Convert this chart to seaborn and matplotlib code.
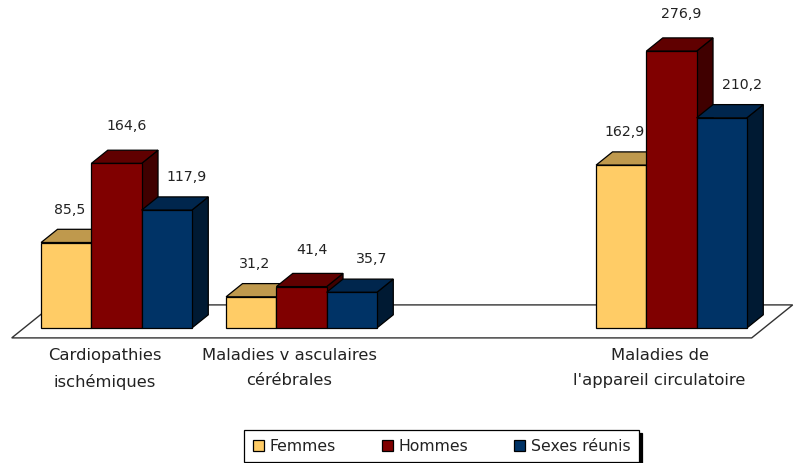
import matplotlib
matplotlib.use("Agg")
import matplotlib.pyplot as plt
import matplotlib.colors as mcolors
from matplotlib.patches import Polygon, Patch
import pandas as pd
import seaborn as sns

# Data
categories = ["Cardiopathies\nischémiques", "Maladies v asculaires\ncérébrales",
              "Maladies de\nl'appareil circulatoire"]
axis_order = [categories[0], categories[1], " ", categories[2]]
series = ["Femmes", "Hommes", "Sexes réunis"]
femmes = [85.5, 31.2, 162.9]
hommes = [164.6, 41.4, 276.9]
sexes = [117.9, 35.7, 210.2]
colors = ["#FFCC66", "#800000", "#003366"]

rows = []
for name, vals in zip(series, [femmes, hommes, sexes]):
    for cat, v in zip(categories, vals):
        rows.append({"cat": cat, "serie": name, "val": v})
df = pd.DataFrame(rows)

sns.set_theme(style="white")
plt.rcParams["font.family"] = ["DejaVu Sans"]

W, H = 794, 463
fig = plt.figure(figsize=(W / 100, H / 100), dpi=100)
ax = fig.add_axes([0, 0, 1, 1])

# 185 px per category, 1 px per unit vertically
xmin = -116.5 / 185
xmax = (W - 116.5) / 185
ymin, ymax = -135, 328
ax.set_xlim(xmin, xmax)
ax.set_ylim(ymin, ymax)

sns.barplot(data=df, x="cat", y="val", hue="serie", order=axis_order,
            hue_order=series, palette=colors, width=0.815, saturation=1,
            edgecolor="black", linewidth=0.9, legend=False, ax=ax)
ax.set_xlim(xmin, xmax)
ax.set_ylim(ymin, ymax)
ax.axis("off")

sx = (xmax - xmin) / W  # data units per pixel, x
sy = (ymax - ymin) / H  # data units per pixel, y

# depth vector of the floor (pixels); bars occupy 0.3..0.7 of it
Dx, Dy = 41, 33
bdx, bdy = 0.4 * Dx * sx, 0.4 * Dy * sy

# floor parallelogram
x0, x1 = -0.5, 3.5
fx, fy = 0.3 * Dx * sx, 0.3 * Dy * sy
bx, by = 0.7 * Dx * sx, 0.7 * Dy * sy
floor = Polygon([(x0 - fx, -fy), (x1 - fx, -fy), (x1 + bx, by), (x0 + bx, by)],
                closed=True, facecolor="white", edgecolor="#333333",
                linewidth=1.0, zorder=0.5)
ax.add_patch(floor)


def shade(c, f):
    r, g, b = mcolors.to_rgb(c)
    return (r * f, g * f, b * f)


bars = sorted([p for p in ax.patches if p is not floor and p.get_height() > 0],
              key=lambda p: p.get_x())
z = 2
for p in bars:
    x, w, h = p.get_x(), p.get_width(), p.get_height()
    fc = p.get_facecolor()
    side = Polygon([(x + w, 0), (x + w + bdx, bdy), (x + w + bdx, h + bdy), (x + w, h)],
                   closed=True, facecolor=shade(fc, 0.5), edgecolor="black",
                   linewidth=0.9, zorder=z)
    top = Polygon([(x, h), (x + w, h), (x + w + bdx, h + bdy), (x + bdx, h + bdy)],
                  closed=True, facecolor=shade(fc, 0.75), edgecolor="black",
                  linewidth=0.9, zorder=z + 1)
    ax.add_patch(side)
    ax.add_patch(top)
    p.set_zorder(z + 2)
    z += 3

# value labels
offsets = {"Femmes": (3, 33), "Hommes": (10, 37), "Sexes réunis": (20, 33)}
for name, vals in zip(series, [femmes, hommes, sexes]):
    for cat, v in zip(categories, vals):
        pos = axis_order.index(cat)
        k = series.index(name)
        xc = pos + (k - 1) * 0.815 / 3
        ox, oy = offsets[name]
        ax.annotate(f"{v:.1f}".replace(".", ","), xy=(xc, v), xytext=(ox, oy),
                    textcoords="offset pixels", ha="center", va="center",
                    fontsize=10.2, color="#222222", zorder=50)

# category labels
for cat in categories:
    pos = axis_order.index(cat)
    ax.text(pos - 12 * sx, -20, cat, ha="center", va="top", fontsize=11.8,
            linespacing=1.85, color="#222222")

# legend
handles = [Patch(facecolor=c, edgecolor="black", linewidth=0.9) for c in colors]
leg = fig.legend(handles, series, loc="upper left",
                 bbox_to_anchor=(244 / W, 1 - 430 / H), ncol=3, fontsize=11.3,
                 frameon=True, fancybox=False, handlelength=0.7,
                 handleheight=0.7, handletextpad=0.35, columnspacing=2.95,
                 borderpad=0.55, borderaxespad=0,
                 shadow={"color": "black", "alpha": 1})
leg.get_frame().set_edgecolor("black")
leg.get_frame().set_linewidth(0.9)
for t in leg.get_texts():
    t.set_color("#222222")

fig.savefig("out.png", dpi=100)
